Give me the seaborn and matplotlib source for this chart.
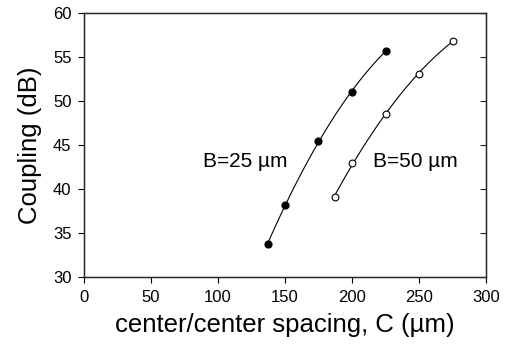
import numpy as np
import pandas as pd
import seaborn as sns
from matplotlib import pyplot as plt

# spacing C (um) and coupling (dB) for the two gap widths
c_b25 = [137, 150, 175, 200, 225]
coupling_b25 = [33.7, 38.2, 45.4, 51.0, 55.7]
c_b50 = [187, 200, 225, 250, 275]
coupling_b50 = [39.1, 42.9, 48.5, 53.1, 56.8]

x_ticks = [0, 50, 100, 150, 200, 250, 300]
y_ticks = [30, 35, 40, 45, 50, 55, 60]

df25 = pd.DataFrame({'C': c_b25, 'coupling': coupling_b25})
df50 = pd.DataFrame({'C': c_b50, 'coupling': coupling_b50})

sns.set_style('white')
plt.rcParams['font.family'] = ['Liberation Sans', 'DejaVu Sans']
plt.rcParams['text.color'] = 'black'
plt.rcParams['axes.labelcolor'] = 'black'

fig = plt.figure(figsize=(5.05, 3.51), dpi=100)
ax = fig.add_axes([0.1663, 0.2108, 0.7961, 0.7522])

# smooth curves through the points (2nd order fit)
sns.regplot(data=df25, x='C', y='coupling', order=2, ci=None, scatter=False,
            truncate=True, color='black', line_kws={'lw': 0.8}, ax=ax)
sns.regplot(data=df50, x='C', y='coupling', order=2, ci=None, scatter=False,
            truncate=True, color='black', line_kws={'lw': 0.8}, ax=ax)

sns.scatterplot(data=df25, x='C', y='coupling', color='black', edgecolor='black',
                s=26, linewidth=0.8, zorder=3, ax=ax)
sns.scatterplot(data=df50, x='C', y='coupling', color='white', edgecolor='black',
                s=24, linewidth=0.8, zorder=3, ax=ax)

ax.set_xlim(0, 300)
ax.set_ylim(30, 60)
ax.set_xticks(x_ticks)
ax.set_yticks(y_ticks)
ax.tick_params(axis='both', direction='out', length=4, width=0.8,
               labelsize=12, colors='black', pad=5)
ax.tick_params(left=True, bottom=True)
for s in ax.spines.values():
    s.set_color('#222222')
    s.set_linewidth(1.0)

# mirrored ticks on the right, pointing inward
ax2 = ax.twinx()
ax2.set_ylim(30, 60)
ax2.set_yticks(y_ticks)
ax2.tick_params(axis='y', direction='in', length=4, width=0.8, right=True,
                labelright=False, colors='#222222')

ax.set_xlabel('center/center spacing, C (\u00b5m)', fontsize=18.5, labelpad=6)
ax.set_ylabel('Coupling (dB)', fontsize=18.5, labelpad=8)

ax.text(89, 43.1, 'B=25 \u00b5m', fontsize=15, va='center', ha='left')
ax.text(215.5, 43.1, 'B=50 \u00b5m', fontsize=15, va='center', ha='left')

plt.savefig('out.png', dpi=100)
